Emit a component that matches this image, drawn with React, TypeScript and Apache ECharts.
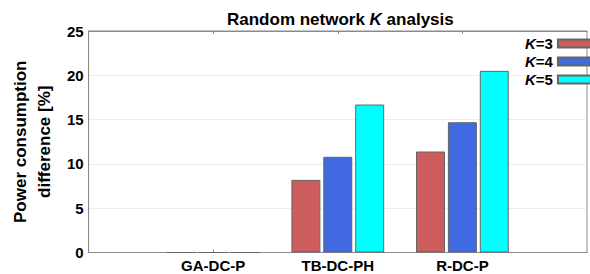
import React, { useEffect, useRef } from "react";
import * as echarts from "echarts";

const categories = ["", "GA-DC-P", "TB-DC-PH", "R-DC-P", ""];
const seriesNames = ["K=3", "K=4", "K=5"];
const k3 = [null, 0, 8.2, 11.4, null];
const k4 = [null, 0, 10.8, 14.7, null];
const k5 = [null, 0, 16.7, 20.5, null];
const colors = ["#CD5C5C", "#4169E1", "#00FFFF"];
const yTicks = [0, 5, 10, 15, 20, 25];

const FONT = "Liberation Sans, Arial, sans-serif";

export default function App() {
  const ref = useRef<HTMLDivElement>(null);
  useEffect(() => {
    if (!ref.current) return;
    const chart = echarts.init(ref.current, undefined, { renderer: "svg" });
    const values = [k3, k4, k5];
    const showTick = (i: number) => i > 0 && i < categories.length - 1;
    chart.setOption({
      animation: false,
      title: {
        text: "Random network {i|K} analysis",
        left: 222,
        top: 6,
        textStyle: {
          fontFamily: FONT,
          fontWeight: "bold",
          fontSize: 17,
          color: "#000",
          rich: {
            i: { fontFamily: FONT, fontWeight: "bold", fontStyle: "italic", fontSize: 17, color: "#000" },
          },
        },
      },
      legend: {
        data: seriesNames,
        orient: "vertical",
        align: "right",
        left: 520,
        top: 31,
        padding: 5,
        itemWidth: 40,
        itemHeight: 8,
        itemGap: 3,
        icon: "rect",
        formatter: (name: string) => `{i|K}{n|${name.slice(1)}}`,
        textStyle: {
          fontFamily: FONT,
          fontWeight: "bold",
          fontSize: 15,
          color: "#000",
          rich: {
            i: { fontFamily: FONT, fontWeight: "bold", fontStyle: "italic", fontSize: 15, color: "#000" },
            n: { fontFamily: FONT, fontWeight: "bold", fontSize: 15, color: "#000" },
          },
        },
      },
      grid: {
        left: 86,
        top: 31,
        bottom: 21.5,
        right: -8,
        show: true,
        borderColor: "#8a8a8a",
        borderWidth: 1,
      },
      xAxis: [
        {
          type: "category",
          data: categories,
          boundaryGap: false,
          position: "bottom",
          axisLine: { lineStyle: { color: "#8a8a8a" } },
          axisTick: { inside: true, length: 3, interval: (i: number) => showTick(i), lineStyle: { color: "#8a8a8a" } },
          axisLabel: {
            interval: 0,
            margin: 5,
            fontFamily: FONT,
            fontWeight: "bold",
            fontSize: 15,
            color: "#000",
          },
          splitLine: { show: false },
        },
        {
          type: "category",
          data: categories,
          boundaryGap: false,
          position: "top",
          axisLine: { lineStyle: { color: "#8a8a8a" } },
          axisTick: { inside: true, length: 3, interval: (i: number) => showTick(i), lineStyle: { color: "#8a8a8a" } },
          axisLabel: { show: false },
          splitLine: { show: false },
        },
      ],
      yAxis: {
        type: "value",
        min: yTicks[0],
        max: yTicks[yTicks.length - 1],
        interval: 5,
        name: "Power consumption\ndifference [%]",
        nameLocation: "middle",
        nameGap: 24,
        nameTextStyle: {
          fontFamily: FONT,
          fontWeight: "bold",
          fontSize: 17,
          lineHeight: 24,
          color: "#000",
        },
        axisLine: { show: true, lineStyle: { color: "#8a8a8a" } },
        axisTick: { show: false },
        axisLabel: {
          margin: 5,
          fontFamily: FONT,
          fontWeight: "bold",
          fontSize: 15,
          color: "#000",
        },
        splitLine: { show: true, lineStyle: { color: "#dcdcdc", type: "dotted" } },
      },
      series: seriesNames.map((name, i) => ({
        name,
        type: "bar",
        xAxisIndex: 0,
        data: values[i],
        barWidth: 29,
        barGap: "10%",
        itemStyle: { color: colors[i], borderColor: "#666", borderWidth: 1 },
      })),
    });
    return () => chart.dispose();
  }, []);
  return <div ref={ref} style={{ position: "absolute", left: 0, top: 0, width: 590, height: 274 }} />;
}
